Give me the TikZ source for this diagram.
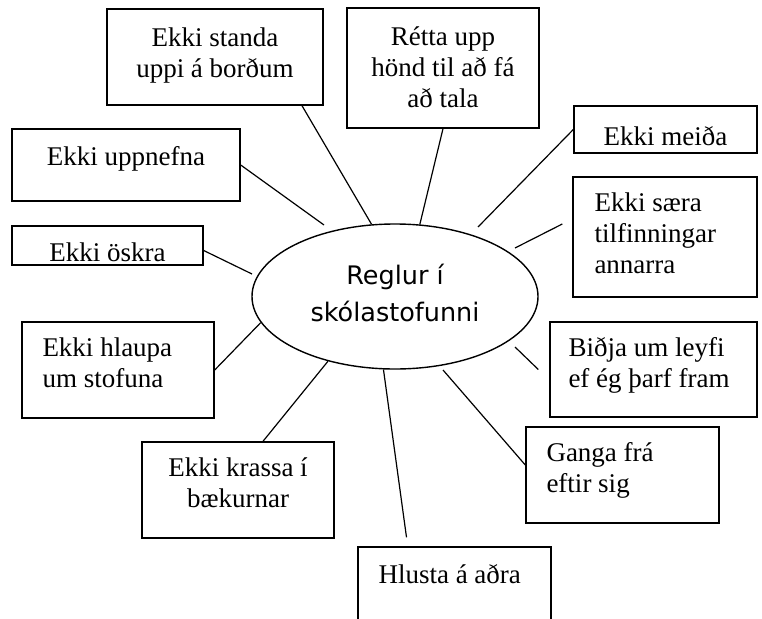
\documentclass[tikz,border=0pt]{standalone}
\usepackage{fontspec}
\usetikzlibrary{shapes.geometric}
\setmainfont{Liberation Serif}
\newfontfamily\hubfont{DejaVu Sans}
\newcommand{\capstrut}{\rule{0pt}{25pt}}
\newcommand{\hubstrut}{\rule[-8pt]{0pt}{8pt}}
\begin{document}
\begin{tikzpicture}[x=1pt,y=-1pt,
  box/.style={draw,line width=1.4pt,inner sep=0pt},
  txt/.style={inner sep=0pt,font=\fontsize{27}{31}\selectfont},
  hub/.style={draw,ellipse,line width=1.4pt,inner sep=0pt,align=center,minimum width=286pt,minimum height=145pt,font=\hubfont\fontsize{25.5}{37}\selectfont},
  spoke/.style={line width=1.2pt}]
\clip (0,0) rectangle (762,618);
\node[hub] (rules) at (395,296.5) {Reglur í\\skólastofunni\hubstrut};
\node[box,minimum width=216pt,minimum height=96pt] (standa) at (215,57) {};
\node[box,minimum width=192pt,minimum height=120pt] (retta) at (443,68) {};
\node[box,minimum width=183pt,minimum height=47pt] (meida) at (665.5,129.5) {};
\node[box,minimum width=184pt,minimum height=120pt] (saera) at (665,237) {};
\node[box,minimum width=228pt,minimum height=72pt] (uppnefna) at (126,165) {};
\node[box,minimum width=191pt,minimum height=39pt] (oskra) at (107.5,245.5) {};
\node[box,minimum width=192pt,minimum height=96pt] (hlaupa) at (118,370) {};
\node[box,minimum width=192pt,minimum height=96pt] (krassa) at (238,490) {};
\node[box,minimum width=193pt,minimum height=96pt] (hlusta) at (454.5,595) {};
\node[box,minimum width=207pt,minimum height=95pt] (bidja) at (653.5,369.5) {};
\node[box,minimum width=193pt,minimum height=96pt] (ganga) at (622.5,475) {};
\node[txt,anchor=north,align=center] (standa-t) at ([yshift=-13pt]standa.north) {\capstrut Ekki standa\\uppi á borðum};
\node[txt,anchor=north,align=center] (retta-t) at ([yshift=-13pt]retta.north) {\capstrut Rétta upp\\hönd til að fá\\að tala};
\node[txt,anchor=north,align=center] (meida-t) at ([yshift=-15pt]meida.north) {\capstrut Ekki meiða};
\node[txt,anchor=north west,align=left] (saera-t) at ([xshift=22pt,yshift=-10pt]saera.north west) {\capstrut Ekki særa\\tilfinningar\\annarra};
\node[txt,anchor=north,align=center] (uppnefna-t) at ([yshift=-12pt]uppnefna.north) {\capstrut Ekki uppnefna};
\node[txt,anchor=north,align=center] (oskra-t) at ([yshift=-11pt]oskra.north) {\capstrut Ekki öskra};
\node[txt,anchor=north west,align=left] (hlaupa-t) at ([xshift=21pt,yshift=-10pt]hlaupa.north west) {\capstrut Ekki hlaupa\\um stofuna};
\node[txt,anchor=north,align=center] (krassa-t) at ([yshift=-10pt]krassa.north) {\capstrut Ekki krassa í\\bækurnar};
\node[txt,anchor=north west,align=left] (hlusta-t) at ([xshift=21pt,yshift=-12pt]hlusta.north west) {\capstrut Hlusta á aðra};
\node[txt,anchor=north west,align=left] (bidja-t) at ([xshift=19pt,yshift=-10pt]bidja.north west) {\capstrut Biðja um leyfi\\ef ég þarf fram};
\node[txt,anchor=north west,align=left] (ganga-t) at ([xshift=21pt,yshift=-10pt]ganga.north west) {\capstrut Ganga frá\\eftir sig};
\coordinate (meida-e) at (478,227);
\coordinate (saera-s) at ([xshift=-10pt,yshift=13pt]saera.west);
\coordinate (saera-e) at (515,248);
\coordinate (uppnefna-e) at (324,225);
\coordinate (oskra-e) at (252,274);
\coordinate (hlusta-s) at ([xshift=-48pt,yshift=9pt]hlusta.north);
\coordinate (bidja-s) at ([xshift=-11pt]bidja.west);
\coordinate (bidja-e) at (515,347);
\coordinate (ganga-e) at (443,370);
\draw[spoke] ([xshift=87pt]standa.south) -- (rules.108);
\draw[spoke] (retta.south) -- (rules.71);
\draw[spoke] (meida.west) -- (meida-e);
\draw[spoke] (saera-s) -- (saera-e);
\draw[spoke] (uppnefna.east) -- (uppnefna-e);
\draw[spoke] ([yshift=-5pt]oskra.east) -- (oskra-e);
\draw[spoke] (hlaupa.east) -- (rules.191);
\draw[spoke] ([xshift=25pt]krassa.north) -- (rules.224);
\draw[spoke] (hlusta-s) -- (rules.261);
\draw[spoke] (bidja-s) -- (bidja-e);
\draw[spoke] ([yshift=10pt]ganga.west) -- (ganga-e);
\end{tikzpicture}
\end{document}
